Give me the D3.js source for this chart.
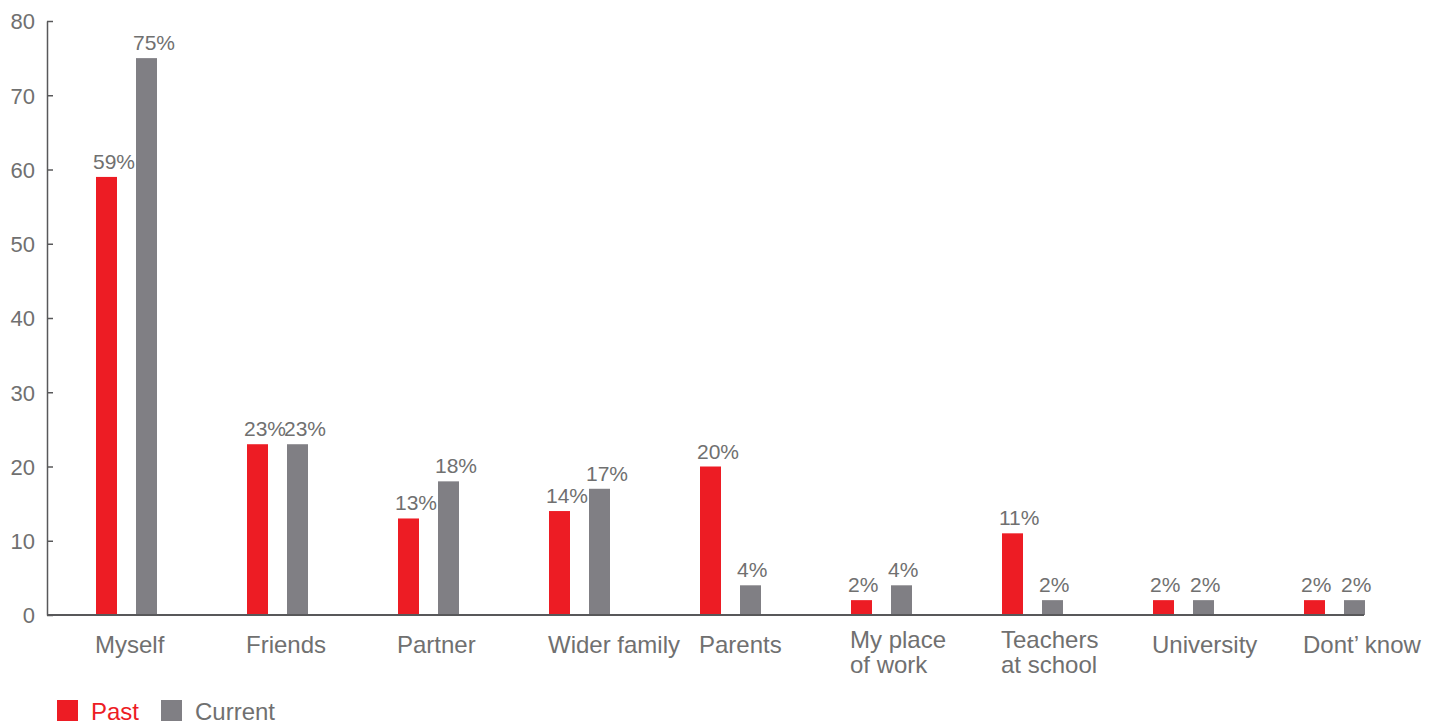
<!DOCTYPE html>
<html><head><meta charset="utf-8">
<script src="https://cdn.jsdelivr.net/npm/d3@7"></script>
<style>
html,body{margin:0;padding:0;background:#fff;}
svg{display:block;font-family:"Liberation Sans",Arial,sans-serif;}
</style></head>
<body><svg id="c" width="1441" height="724"></svg>
<script>
const categories = ["Myself","Friends","Partner","Wider family","Parents","My place of work","Teachers at school","University","Dont’ know"];
const categoryLines = [["Myself"],["Friends"],["Partner"],["Wider family"],["Parents"],["My place","of work"],["Teachers","at school"],["University"],["Dont’ know"]];
const seriesNames = ["Past","Current"];
const pastValues = [59,23,13,14,20,2,11,2,2];
const currentValues = [75,23,18,17,4,4,2,2,2];
const yTicks = [0,10,20,30,40,50,60,70,80];

const colors = {Past:"#ED1C24", Current:"#807F84"};
const textColor = "#707070";
const axisColor = "#58585a";

const svg = d3.select("#c");
const y = d3.scaleLinear().domain([0,80]).range([615,21]);
const x = d3.scaleBand().domain(categories).range([96, 96+151*categories.length]).paddingInner(0).paddingOuter(0);
const xs = d3.scaleBand().domain(seriesNames).range([0,61]).paddingInner(0.475).paddingOuter(0);

const data = categories.map((c,i)=>({cat:c, lines:categoryLines[i], vals:[{s:"Past",v:pastValues[i]},{s:"Current",v:currentValues[i]}]}));

// Y axis
const yAxis = d3.axisLeft(y).tickValues(yTicks).tickSizeInner(-6).tickSizeOuter(0).tickPadding(12);
const gy = svg.append("g").attr("transform","translate(47,0)").call(yAxis);
gy.select(".domain").attr("stroke",axisColor).attr("stroke-width",1.5);
gy.selectAll(".tick line").attr("stroke",axisColor).attr("stroke-width",1.5);
gy.selectAll(".tick text").attr("fill",textColor).attr("font-size",22).attr("font-family","Liberation Sans, Arial, sans-serif").attr("dy","0.36em");

// bars
const g = svg.append("g");
const grp = g.selectAll("g.grp").data(data).join("g").attr("class","grp").attr("transform",d=>`translate(${x(d.cat)},0)`);
grp.selectAll("rect").data(d=>d.vals).join("rect")
  .attr("x",d=>xs(d.s)).attr("width",xs.bandwidth())
  .attr("y",d=>y(d.v)).attr("height",d=>y(0)-y(d.v))
  .attr("fill",d=>colors[d.s]);
grp.selectAll("text.val").data(d=>d.vals).join("text").attr("class","val")
  .attr("x",d=>xs(d.s)-3).attr("y",d=>y(d.v)-8)
  .attr("fill",textColor).attr("font-size",21)
  .text(d=>d.v+"%");

// x axis line
svg.append("line").attr("x1",47).attr("x2",1364).attr("y1",y(0)).attr("y2",y(0)).attr("stroke",axisColor).attr("stroke-width",2);

// category labels
grp.each(function(d){
  const t = d3.select(this).append("text").attr("x",-1).attr("fill",textColor).attr("font-size",24);
  const base = d.lines.length>1 ? 648 : 653;
  d.lines.forEach((l,i)=>{
    t.append("tspan").attr("x",-1).attr("y",base+i*25).text(l);
  });
});

// legend
const leg = svg.append("g");
const legX = [57,161];
seriesNames.forEach((s,i)=>{
  leg.append("rect").attr("x",legX[i]).attr("y",700).attr("width",21).attr("height",21).attr("fill",colors[s]);
  leg.append("text").attr("x",legX[i]+34).attr("y",720).attr("font-size",24)
    .attr("fill", s==="Past"?colors.Past:textColor).text(s);
});
</script></body></html>
